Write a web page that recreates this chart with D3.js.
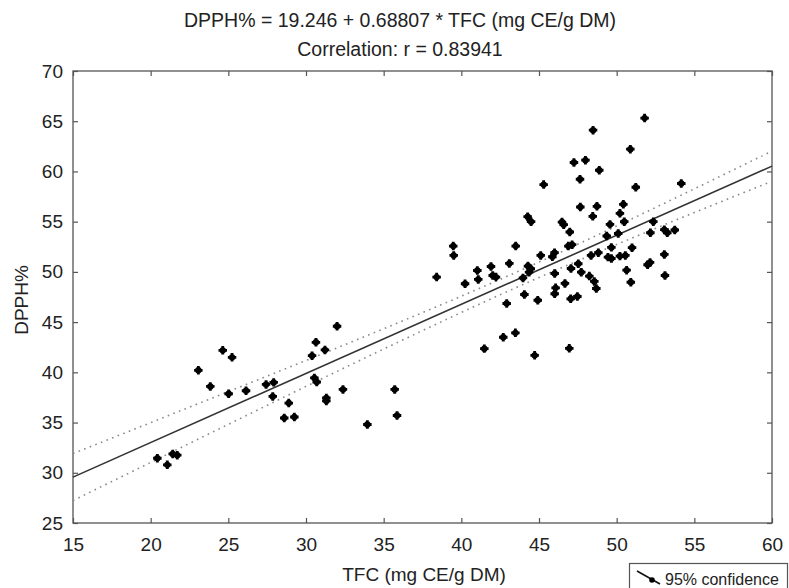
<!DOCTYPE html>
<html><head><meta charset="utf-8">
<script src="https://cdn.jsdelivr.net/npm/d3@7"></script>
<style>body{margin:0;background:#fff}svg text{font-family:"Liberation Sans",Arial,Helvetica,sans-serif;fill:#222}</style>
</head><body><svg id="c" width="789" height="588"></svg>
<script>
// Data
const tfc = [20.43,21.07,21.42,21.71,23.07,23.84,24.64,25.24,25.02,26.14,27.43,27.92,27.86,28.89,28.60,29.25,
  32.00,30.64,30.39,31.22,30.54,30.69,32.38,31.31,31.31,33.95,35.71,35.86,
  48.48,47.25,47.99,48.88,47.64,45.30,47.66,48.73,48.46,50.21,44.27,44.49,46.48,46.59,46.98,49.57,50.10,
  43.50,39.48,39.51,46.89,47.13,45.11,46.00,45.86,43.09,41.91,41.03,41.09,38.41,40.24,42.02,42.23,
  44.29,44.47,44.36,46.01,47.06,47.53,47.72,48.35,48.82,49.66,49.44,49.66,48.24,48.56,48.69,
  44.06,46.07,46.67,46.01,44.92,42.92,47.04,47.47,42.70,43.48,41.48,44.72,46.95,
  51.80,50.88,51.23,54.16,50.43,50.49,49.36,52.36,52.17,53.07,53.26,53.74,50.99,50.21,50.56,53.07,
  50.64,51.99,52.15,53.11,50.91,43.97];
const dpph = [31.45,30.79,31.88,31.75,40.20,38.60,42.19,41.49,37.87,38.17,38.80,39.00,37.60,36.94,35.45,35.55,
  44.59,42.99,41.66,42.23,39.44,39.04,38.30,37.45,37.15,34.81,38.30,35.70,
  64.11,60.89,61.12,60.12,59.22,58.69,56.46,56.53,55.53,55.83,55.50,55.00,54.96,54.70,53.97,54.73,53.82,
  52.57,52.57,51.64,52.57,52.71,51.64,51.91,51.51,50.84,50.54,50.14,49.25,49.48,48.82,49.64,49.48,
  50.58,50.31,49.97,49.84,50.34,50.81,49.97,51.64,51.91,52.44,51.47,51.33,49.58,49.05,48.35,
  47.75,48.41,48.85,47.82,47.18,46.85,47.32,47.55,43.49,43.93,42.36,41.69,42.39,
  65.31,62.22,58.43,58.80,56.73,55.00,53.57,55.00,53.90,54.20,53.90,54.17,52.41,51.57,51.64,51.74,
  50.17,50.71,50.94,49.64,48.97,49.40];

// Regression (from title) and 95% confidence band
const intercept = 19.246, slope = 0.68807;
const bandX     = [15,    20,    25,    30,    35,    40,    45,    50,    55,    60];
const bandUpper = [31.91, 34.99, 38.08, 41.18, 44.34, 47.58, 50.98, 54.57, 58.27, 62.03];
const bandLower = [27.23, 31.03, 34.82, 38.60, 42.32, 45.96, 49.44, 52.73, 55.91, 59.03];

const xTicks = [15,20,25,30,35,40,45,50,55,60];
const yTicks = [25,30,35,40,45,50,55,60,65,70];
const titleLines = ["DPPH% = 19.246 + 0.68807 * TFC (mg CE/g DM)", "Correlation: r = 0.83941"];
const xLabel = "TFC (mg CE/g DM)", yLabel = "DPPH%", legendLabel = "95% confidence";

const svg = d3.select("#c");
const m = {l:73, r:17, t:71, b:65};
const W = 789, H = 588;
const x = d3.scaleLinear().domain([15,60]).range([m.l, W-m.r]);
const y = d3.scaleLinear().domain([25,70]).range([H-m.b, m.t]);
const axisCol = "#555";
const fs = 19;

// axes (inward ticks on all sides)
function styleAxis(g){ g.select(".domain").remove(); g.selectAll("line").attr("stroke",axisCol).attr("stroke-width",1.2); g.selectAll("text").attr("font-size",fs).attr("fill","#222"); }
svg.append("g").attr("transform",`translate(0,${H-m.b})`)
  .call(d3.axisBottom(x).tickValues(xTicks).tickSizeInner(-5).tickSizeOuter(0).tickPadding(15).tickFormat(d3.format("d"))).call(styleAxis);
svg.append("g").attr("transform",`translate(0,${m.t})`)
  .call(d3.axisTop(x).tickValues(xTicks).tickSizeInner(-5).tickSizeOuter(0).tickFormat("")).call(styleAxis);
svg.append("g").attr("transform",`translate(${m.l},0)`)
  .call(d3.axisLeft(y).tickValues(yTicks).tickSizeInner(-5).tickSizeOuter(0).tickPadding(10).tickFormat(d3.format("d"))).call(styleAxis);
svg.append("g").attr("transform",`translate(${W-m.r},0)`)
  .call(d3.axisRight(y).tickValues(yTicks).tickSizeInner(-5).tickSizeOuter(0).tickFormat("")).call(styleAxis);
svg.append("rect").attr("x",m.l).attr("y",m.t).attr("width",W-m.l-m.r).attr("height",H-m.t-m.b)
  .attr("fill","none").attr("stroke",axisCol).attr("stroke-width",1.3);

// confidence band lines
const bandLine = d3.line().x((d,i)=>x(bandX[i])).y(d=>y(d)).curve(d3.curveNatural);
[bandUpper, bandLower].forEach(arr=>{
  svg.append("path").attr("d",bandLine(arr)).attr("fill","none").attr("stroke","#8a8a8a")
    .attr("stroke-width",1.6).attr("stroke-dasharray","1.6,4.4");
});
// fit line
const fitX = [15,60];
svg.append("path").attr("d",d3.line().x(d=>x(d)).y(d=>y(intercept+slope*d))(fitX))
  .attr("fill","none").attr("stroke","#333").attr("stroke-width",1.6);

// points
const pts = svg.append("g");
tfc.forEach((v,i)=>{
  const g = pts.append("g").attr("transform",`translate(${x(v)},${y(dpph[i])})`);
  g.append("path").attr("d",d3.symbol(d3.symbolCross,40)()).attr("fill","#000");
  g.append("circle").attr("r",3.2).attr("fill","#000");
});

// titles
svg.append("text").attr("x",400).attr("y",27).attr("text-anchor","middle").attr("font-size",19.5).text(titleLines[0]);
svg.append("text").attr("x",400).attr("y",56).attr("text-anchor","middle").attr("font-size",19.5).text(titleLines[1]);
svg.append("text").attr("x",424).attr("y",581).attr("text-anchor","middle").attr("font-size",fs).text(xLabel);
svg.append("text").attr("transform",`translate(28,300) rotate(-90)`).attr("text-anchor","middle").attr("font-size",fs).text(yLabel);

// legend
const lg = svg.append("g");
lg.append("rect").attr("x",629.5).attr("y",563.5).attr("width",158).attr("height",30).attr("fill","#fff").attr("stroke",axisCol).attr("stroke-width",1.2);
lg.append("line").attr("x1",637).attr("y1",571).attr("x2",660).attr("y2",584).attr("stroke","#111").attr("stroke-width",1.6);
lg.append("circle").attr("cx",652).attr("cy",580).attr("r",2.8).attr("fill","#000");
lg.append("text").attr("x",665).attr("y",585).attr("font-size",16).text(legendLabel);
</script></body></html>
